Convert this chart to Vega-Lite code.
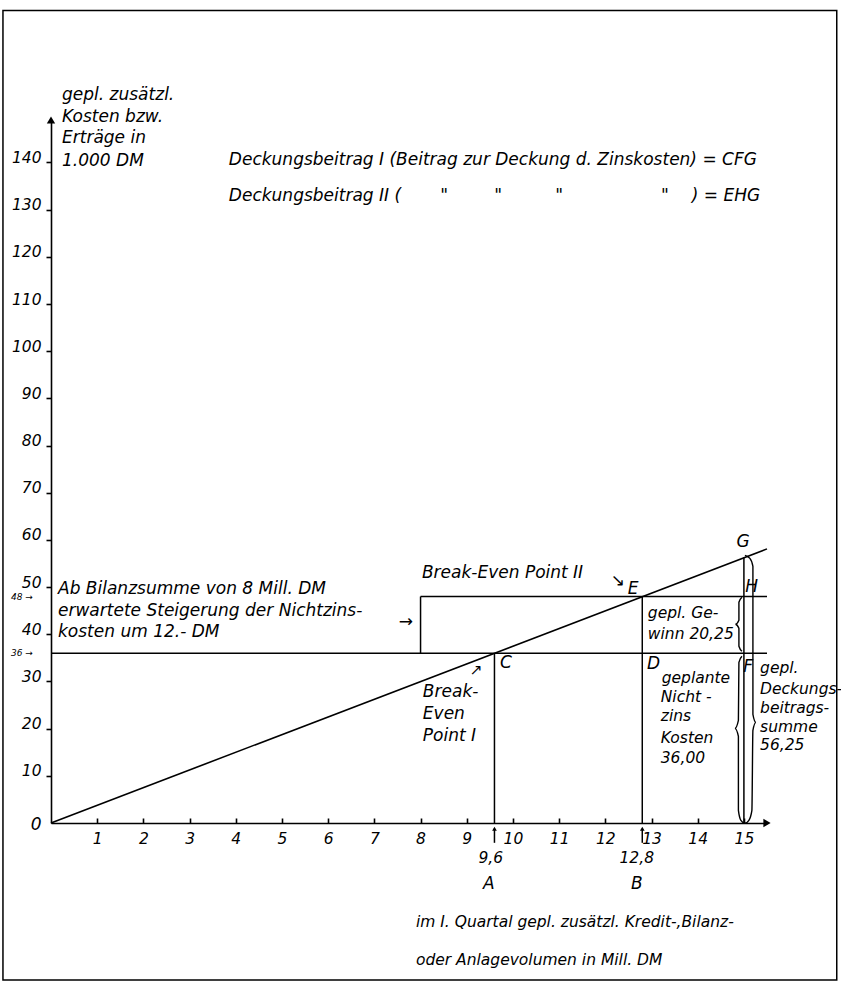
{
  "$schema": "https://vega.github.io/schema/vega-lite/v6.json",
  "autosize": "none",
  "width": 716,
  "height": 703,
  "padding": {"left": 51, "top": 120, "right": 74, "bottom": 161},
  "background": "white",
  "config": {
    "view": {"stroke": null},
    "font": "DejaVu Sans",
    "text": {"font": "DejaVu Sans", "fontStyle": "italic", "fontSize": 17, "color": "black", "baseline": "middle"},
    "axis": {
      "domainColor": "black", "domainWidth": 1.6, "tickColor": "black", "tickWidth": 1.6,
      "labelFont": "DejaVu Sans", "labelFontStyle": "italic", "labelColor": "black", "labelFontSize": 15.5,
      "grid": false, "title": null
    }
  },
  "datasets": {
    "lines": [{"x": 0, "y": 0}, {"x": 15.5, "y": 58.1}],
    "rules": [
      {"x": 0, "x2": 15.5, "y": 36, "y2": 36},
      {"x": 8, "x2": 15.5, "y": 48, "y2": 48},
      {"x": 8, "x2": 8, "y": 36, "y2": 48},
      {"x": 9.6, "x2": 9.6, "y": 0, "y2": 36},
      {"x": 12.8, "x2": 12.8, "y": 0, "y2": 48},
      {"x": 15, "x2": 15, "y": 0, "y2": 56.25},
      {"x": 9.6, "x2": 9.6, "y": -4.2, "y2": -1.2},
      {"x": 12.8, "x2": 12.8, "y": -4.2, "y2": -1.2}
    ],
    "braces": [
      {"b": "u", "i": 1, "x": 14.957, "y": 35.32},
      {"b": "u", "i": 2, "x": 14.892, "y": 34.05},
      {"b": "u", "i": 3, "x": 14.881, "y": 21.76},
      {"b": "u", "i": 4, "x": 14.805, "y": 20.06},
      {"b": "u", "i": 5, "x": 14.881, "y": 18.37},
      {"b": "u", "i": 6, "x": 14.881, "y": 2.69},
      {"b": "u", "i": 7, "x": 14.935, "y": 0.57},
      {"b": "u", "i": 8, "x": 15.022, "y": -0.06},
      {"b": "u", "i": 9, "x": 15.108, "y": 0.57},
      {"b": "u", "i": 10, "x": 15.173, "y": 2.69},
      {"b": "u", "i": 11, "x": 15.195, "y": 19.64},
      {"b": "u", "i": 12, "x": 15.26, "y": 21.33},
      {"b": "u", "i": 13, "x": 15.195, "y": 23.03},
      {"b": "u", "i": 14, "x": 15.195, "y": 54.39},
      {"b": "u", "i": 15, "x": 15.13, "y": 56.08},
      {"b": "u", "i": 16, "x": 15.022, "y": 56.72},
      {"b": "g", "i": 1, "x": 14.957, "y": 47.84},
      {"b": "g", "i": 2, "x": 14.892, "y": 46.78},
      {"b": "g", "i": 3, "x": 14.892, "y": 42.97},
      {"b": "g", "i": 4, "x": 14.816, "y": 42.12},
      {"b": "g", "i": 5, "x": 14.892, "y": 41.27},
      {"b": "g", "i": 6, "x": 14.892, "y": 37.46},
      {"b": "g", "i": 7, "x": 14.957, "y": 36.4}
    ],
    "frame": [{"x": -1.04, "x2": 17.01, "y": 172.2, "y2": -33.3}],
    "textsLeft": [
      {"x": 0.238, "y": 154.2, "t": "gepl. zusätzl."},
      {"x": 0.238, "y": 149.6, "t": "Kosten bzw."},
      {"x": 0.238, "y": 145.1, "t": "Erträge in"},
      {"x": 0.238, "y": 140.4, "t": "1.000 DM"},
      {"x": 3.85, "y": 140.6, "t": "Deckungsbeitrag  I (Beitrag zur Deckung d. Zinskosten) = CFG"},
      {"x": 3.85, "y": 132.96, "t": "Deckungsbeitrag II ("},
      {"x": 13.87, "y": 132.96, "t": ") = EHG"},
      {"x": 0.152, "y": 49.5, "t": "Ab Bilanzsumme von 8 Mill. DM"},
      {"x": 0.152, "y": 44.9, "t": "erwartete Steigerung der Nichtzins-"},
      {"x": 0.152, "y": 40.5, "t": "kosten um 12.- DM"},
      {"x": 8.03, "y": 52.9, "t": "Break-Even Point II"},
      {"x": 8.05, "y": 27.8, "t": "Break-"},
      {"x": 8.05, "y": 23.0, "t": "Even"},
      {"x": 8.05, "y": 18.4, "t": "Point I"},
      {"x": 9.72, "y": 34.0, "t": "C"},
      {"x": 12.9, "y": 33.6, "t": "D"}
    ],
    "textsLeftN": [
      {"x": 12.92, "y": 44.6, "t": "gepl. Ge-"},
      {"x": 12.92, "y": 40.0, "t": "winn 20,25"},
      {"x": 13.22, "y": 30.7, "t": "geplante"},
      {"x": 13.2, "y": 26.6, "t": "Nicht -"},
      {"x": 13.2, "y": 22.6, "t": "zins"},
      {"x": 13.2, "y": 18.1, "t": "Kosten"},
      {"x": 13.2, "y": 13.7, "t": "36,00"},
      {"x": 15.35, "y": 32.8, "t": "gepl."},
      {"x": 15.35, "y": 28.5, "t": "Deckungs-"},
      {"x": 15.35, "y": 24.3, "t": "beitrags-"},
      {"x": 15.35, "y": 20.3, "t": "summe"},
      {"x": 15.35, "y": 16.5, "t": "56,25"},
      {"x": 7.9, "y": -21.0, "t": "im I. Quartal gepl. zusätzl. Kredit-,Bilanz-"},
      {"x": 7.9, "y": -29.0, "t": "oder Anlagevolumen in Mill. DM"}
    ],
    "textsCenter": [
      {"x": 12.6, "y": 49.6, "t": "E"},
      {"x": 14.98, "y": 59.6, "t": "G"},
      {"x": 15.17, "y": 50.0, "t": "H"},
      {"x": 15.09, "y": 33.0, "t": "F"},
      {"x": 9.48, "y": -13.0, "t": "A"},
      {"x": 12.68, "y": -13.0, "t": "B"},
      {"x": -0.32, "y": -0.5, "t": "0"},
      {"x": 8.51, "y": 132.96, "t": "\""},
      {"x": 9.68, "y": 132.96, "t": "\""},
      {"x": 11.0, "y": 132.96, "t": "\""},
      {"x": 13.29, "y": 132.96, "t": "\""},
      {"x": 12.27, "y": 51.2, "t": "↘"},
      {"x": 7.68, "y": 42.6, "t": "→"}
    ],
    "textsCenterN": [
      {"x": 9.52, "y": -7.5, "t": "9,6"},
      {"x": 12.68, "y": -7.5, "t": "12,8"},
      {"x": 9.2, "y": 32.4, "t": "↗"}
    ],
    "small": [
      {"x": -0.63, "y": 48, "t": "48 →"},
      {"x": -0.63, "y": 36, "t": "36 →"}
    ],
    "upArrows": [{"x": 9.6, "y": -1.2}, {"x": 12.8, "y": -1.2}]
  },
  "layer": [
    {
      "data": {"name": "frame"},
      "mark": {"type": "rect", "fill": null, "stroke": "black", "strokeWidth": 1.5},
      "encoding": {
        "x": {"field": "x", "type": "quantitative", "scale": {"domain": [0, 15.5], "nice": false, "zero": false},
          "axis": {"values": [1,2,3,4,5,6,7,8,9,10,11,12,13,14,15], "tickSize": -5, "labelPadding": 13, "format": "d"}},
        "x2": {"field": "x2"},
        "y": {"field": "y", "type": "quantitative", "scale": {"domain": [0, 149], "nice": false, "zero": false},
          "axis": {"values": [10,20,30,40,50,60,70,80,90,100,110,120,130,140], "tickSize": 5, "labelPadding": 5, "labelBaseline": "alphabetic", "format": "d"}},
        "y2": {"field": "y2"}
      }
    },
    {
      "data": {"name": "lines"},
      "mark": {"type": "line", "color": "black", "strokeWidth": 1.6},
      "encoding": {"x": {"field": "x", "type": "quantitative"}, "y": {"field": "y", "type": "quantitative"}}
    },
    {
      "data": {"name": "rules"},
      "mark": {"type": "rule", "color": "black", "strokeWidth": 1.5},
      "encoding": {"x": {"field": "x", "type": "quantitative"}, "x2": {"field": "x2"}, "y": {"field": "y", "type": "quantitative"}, "y2": {"field": "y2"}}
    },
    {
      "data": {"name": "braces"},
      "mark": {"type": "line", "color": "black", "strokeWidth": 1.4, "interpolate": "monotone"},
      "encoding": {"x": {"field": "x", "type": "quantitative"}, "y": {"field": "y", "type": "quantitative"}, "detail": {"field": "b"}, "order": {"field": "i", "type": "quantitative"}}
    },
    {
      "data": {"values": [{"x": 15.5, "y": 0}]},
      "mark": {"type": "point", "shape": "triangle-right", "filled": true, "color": "black", "size": 70, "opacity": 1},
      "encoding": {"x": {"field": "x", "type": "quantitative"}, "y": {"field": "y", "type": "quantitative"}}
    },
    {
      "data": {"values": [{"x": 0, "y": 149}]},
      "mark": {"type": "point", "shape": "triangle-up", "filled": true, "color": "black", "size": 70, "opacity": 1},
      "encoding": {"x": {"field": "x", "type": "quantitative"}, "y": {"field": "y", "type": "quantitative"}}
    },
    {
      "data": {"name": "upArrows"},
      "mark": {"type": "point", "shape": "triangle-up", "filled": true, "color": "black", "size": 22, "opacity": 1},
      "encoding": {"x": {"field": "x", "type": "quantitative"}, "y": {"field": "y", "type": "quantitative"}}
    },
    {
      "data": {"name": "textsLeft"},
      "mark": {"type": "text", "align": "left"},
      "encoding": {"x": {"field": "x", "type": "quantitative"}, "y": {"field": "y", "type": "quantitative"}, "text": {"field": "t"}}
    },
    {
      "data": {"name": "textsLeftN"},
      "mark": {"type": "text", "align": "left", "fontSize": 15.5},
      "encoding": {"x": {"field": "x", "type": "quantitative"}, "y": {"field": "y", "type": "quantitative"}, "text": {"field": "t"}}
    },
    {
      "data": {"name": "textsCenter"},
      "mark": {"type": "text", "align": "center"},
      "encoding": {"x": {"field": "x", "type": "quantitative"}, "y": {"field": "y", "type": "quantitative"}, "text": {"field": "t"}}
    },
    {
      "data": {"name": "textsCenterN"},
      "mark": {"type": "text", "align": "center", "fontSize": 15.5},
      "encoding": {"x": {"field": "x", "type": "quantitative"}, "y": {"field": "y", "type": "quantitative"}, "text": {"field": "t"}}
    },
    {
      "data": {"name": "small"},
      "mark": {"type": "text", "align": "center", "fontSize": 9},
      "encoding": {"x": {"field": "x", "type": "quantitative"}, "y": {"field": "y", "type": "quantitative"}, "text": {"field": "t"}}
    }
  ]
}
